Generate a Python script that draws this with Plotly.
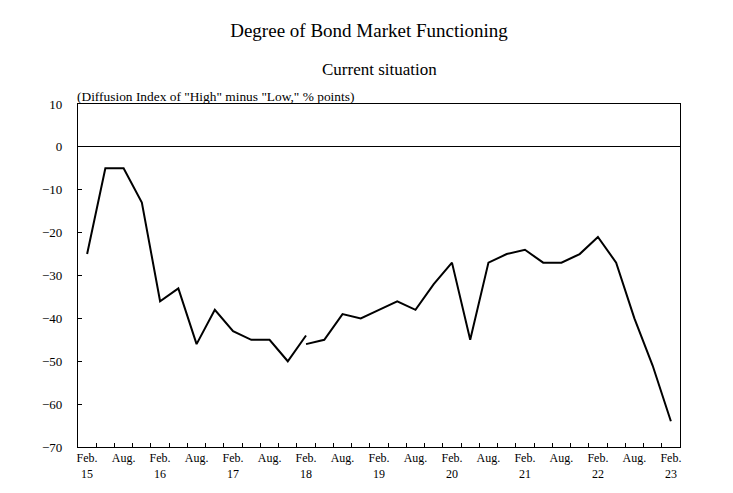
import plotly.graph_objects as go

# Quarterly survey periods, Feb 2015 .. Feb 2023 (index 0..32)
quarters = ["Feb. 15", "May 15", "Aug. 15", "Nov. 15",
            "Feb. 16", "May 16", "Aug. 16", "Nov. 16",
            "Feb. 17", "May 17", "Aug. 17", "Nov. 17",
            "Feb. 18", "May 18", "Aug. 18", "Nov. 18",
            "Feb. 19", "May 19", "Aug. 19", "Nov. 19",
            "Feb. 20", "May 20", "Aug. 20", "Nov. 20",
            "Feb. 21", "May 21", "Aug. 21", "Nov. 21",
            "Feb. 22", "May 22", "Aug. 22", "Nov. 22",
            "Feb. 23"]

# Old series: Feb 15 .. Feb 18
old_values = [-25, -5, -5, -13, -36, -33, -46, -38, -43, -45, -45, -50, -44]
# New series: Feb 18 .. Feb 23
new_values = [-46, -45, -39, -40, -38, -36, -38, -32, -27, -45, -27, -25,
              -24, -27, -27, -25, -21, -27, -40, -51, -64]

month_labels = ["Feb.", "Aug.", "Feb.", "Aug.", "Feb.", "Aug.", "Feb.", "Aug.",
                "Feb.", "Aug.", "Feb.", "Aug.", "Feb.", "Aug.", "Feb.", "Aug.", "Feb."]
year_labels = ["15", "16", "17", "18", "19", "20", "21", "22", "23"]

n = len(quarters)
x_old = list(range(len(old_values)))
x_new = list(range(n - len(new_values), n))

serif = "Times New Roman, Liberation Serif, serif"

# page body has an 8px margin: figure drawn at (8, 8)
W, H = 725, 485
ML, MR, MT, MB = 70, 53, 96, 46
plot_h = H - MT - MB
xr = [-0.5, n - 0.5]

fig = go.Figure()
fig.add_trace(go.Scatter(x=x_old, y=old_values, mode="lines",
                         line=dict(color="black", width=2), showlegend=False,
                         text=quarters[:len(old_values)]))
fig.add_trace(go.Scatter(x=x_new, y=new_values, mode="lines",
                         line=dict(color="black", width=2), showlegend=False,
                         text=quarters[n - len(new_values):]))
# invisible traces to activate the label axes
for ax in ("x2", "x3"):
    fig.add_trace(go.Scatter(x=[0], y=[None], xaxis=ax, yaxis="y",
                             mode="lines", showlegend=False, hoverinfo="skip"))

fig.update_layout(
    width=W, height=H,
    margin=dict(l=ML, r=MR, t=MT, b=MB),
    paper_bgcolor="white", plot_bgcolor="rgba(0,0,0,0)",
    font=dict(family=serif, color="black", size=12),
    title=dict(text="Degree of Bond Market Functioning", x=(369 - 8) / W, xanchor="center",
               y=1 - (30 - 8) / H, yanchor="middle", font=dict(size=19, family=serif)),
    annotations=[
        dict(text="Current situation", xref="paper", yref="paper", x=0.5,
             y=(447 - 70) / plot_h, xanchor="center", yanchor="middle",
             showarrow=False, font=dict(size=17, family=serif)),
        dict(text='(Diffusion Index of "High" minus "Low," % points)',
             xref="paper", yref="paper", x=(75 - 78) / (W - ML - MR),
             y=(447 - 96) / plot_h, xanchor="left", yanchor="middle",
             showarrow=False, font=dict(size=13.4, family=serif)),
    ],
    # frame + quarter-boundary tick marks
    xaxis=dict(
        range=xr,
        tickvals=[k - 0.5 for k in range(1, n)],
        ticks="inside", ticklen=4, tickcolor="black", tickwidth=1.2,
        showticklabels=False,
        showgrid=False, zeroline=False,
        showline=True, mirror=True, linecolor="black", linewidth=1.2,
    ),
    # month labels
    xaxis2=dict(
        range=xr, overlaying="x", anchor="y", side="bottom",
        tickvals=list(range(0, n, 2)), ticktext=month_labels,
        ticks="", tickfont=dict(size=12, family=serif), ticklabelstandoff=2,
        showgrid=False, zeroline=False, showline=False,
    ),
    # year labels
    xaxis3=dict(
        range=xr, overlaying="x", anchor="y", side="bottom",
        tickvals=list(range(0, n, 4)), ticktext=year_labels,
        ticks="", tickfont=dict(size=12, family=serif), ticklabelstandoff=18,
        showgrid=False, zeroline=False, showline=False,
    ),
    yaxis=dict(
        range=[-70, 10], dtick=10, tick0=0,
        ticks="inside", ticklen=4, tickcolor="black", tickwidth=1.2,
        tickfont=dict(size=13, family=serif), ticklabelstandoff=12,
        showgrid=False, zeroline=True, zerolinecolor="black", zerolinewidth=1,
        showline=True, mirror=True, linecolor="black", linewidth=1.2,
    ),
)

fig.write_html("out.html")
